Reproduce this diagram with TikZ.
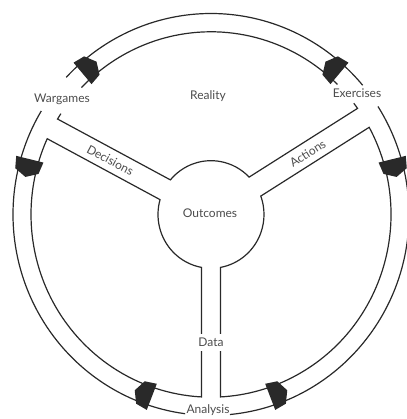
\documentclass[tikz,border=0pt]{standalone}
\usepackage{fontspec}
\setmainfont{Lato}
\usepackage{tikz}
\definecolor{InkGray}{rgb}{0.16,0.16,0.16}
\definecolor{TextGray}{rgb}{0.30,0.30,0.30}

\begin{document}
\begin{tikzpicture}[x=1pt, y=1.015pt, line width=1.2pt, draw=InkGray,
        lbl/.style={text=TextGray, font=\fontsize{12}{14}\selectfont, inner sep=1pt}]
        \useasboundingbox (-211,-201.5) rectangle (195,211.3);
        % Outer rim, broken where the three tools sit
        \draw (40:198) arc[start angle=40, end angle=137, radius=198];
        \draw (149:198) arc[start angle=149, end angle=262.5, radius=198];
        \draw (275.5:198) arc[start angle=275.5, end angle=392.5, radius=198];
        % Inner rim between Exercises and Wargames
        \draw (45.4:180) arc[start angle=45.4, end angle=136, radius=180];
        % Reality side: Decisions and Actions channels around the hub
        \draw (146.5:180) arc[start angle=146.5, end angle=148.5, radius=180] -- (140:53)
            arc[start angle=140, end angle=44, radius=53] -- (35.5:180)
            arc[start angle=35.5, end angle=37.5, radius=180];
        % Left wedge: Decisions to Data
        \draw (155.5:180) -- (164:53) arc[start angle=164, end angle=259.7, radius=53]
            -- (267:180) arc[start angle=267, end angle=155.5, radius=180] -- cycle;
        % Right wedge: Data to Actions
        \draw (273:180) -- (280.3:53) arc[start angle=280.3, end angle=380, radius=53]
            -- (28.5:180) arc[start angle=28.5, end angle=-87, radius=180] -- cycle;
        % Arrow heads in the rim, pointing away from each tool
        \foreach \a/\s in {130/-1, 166/1, 50/1, 14/-1, 249/-1, 291/1}
            \fill[InkGray, shift={(\a:189)}, rotate=\a, yscale=\s]
                (-14,-9) -- (14,-9) -- (12,3) -- (0,9) -- (-12,3) -- cycle;
        % Labels
        \node[lbl] (reality) at (-3,117) {Reality};
        \node[lbl] (wargames) at (-149,113) {Wargames};
        \node[lbl] (exercises) at (146,120) {Exercises};
        \node[lbl] (outcomes) at (-1,1.5) {Outcomes};
        \node[lbl, fill=white, inner sep=4pt] (data) at (0,-126) {Data};
        \node[lbl] (analysis) at (-3,-193) {Analysis};
        \node[lbl, rotate=-28] (decisions) at (152:114) {Decisions};
        \node[lbl, rotate=32] (actions) at (32:114) {Actions};
    \end{tikzpicture}
\end{document}
